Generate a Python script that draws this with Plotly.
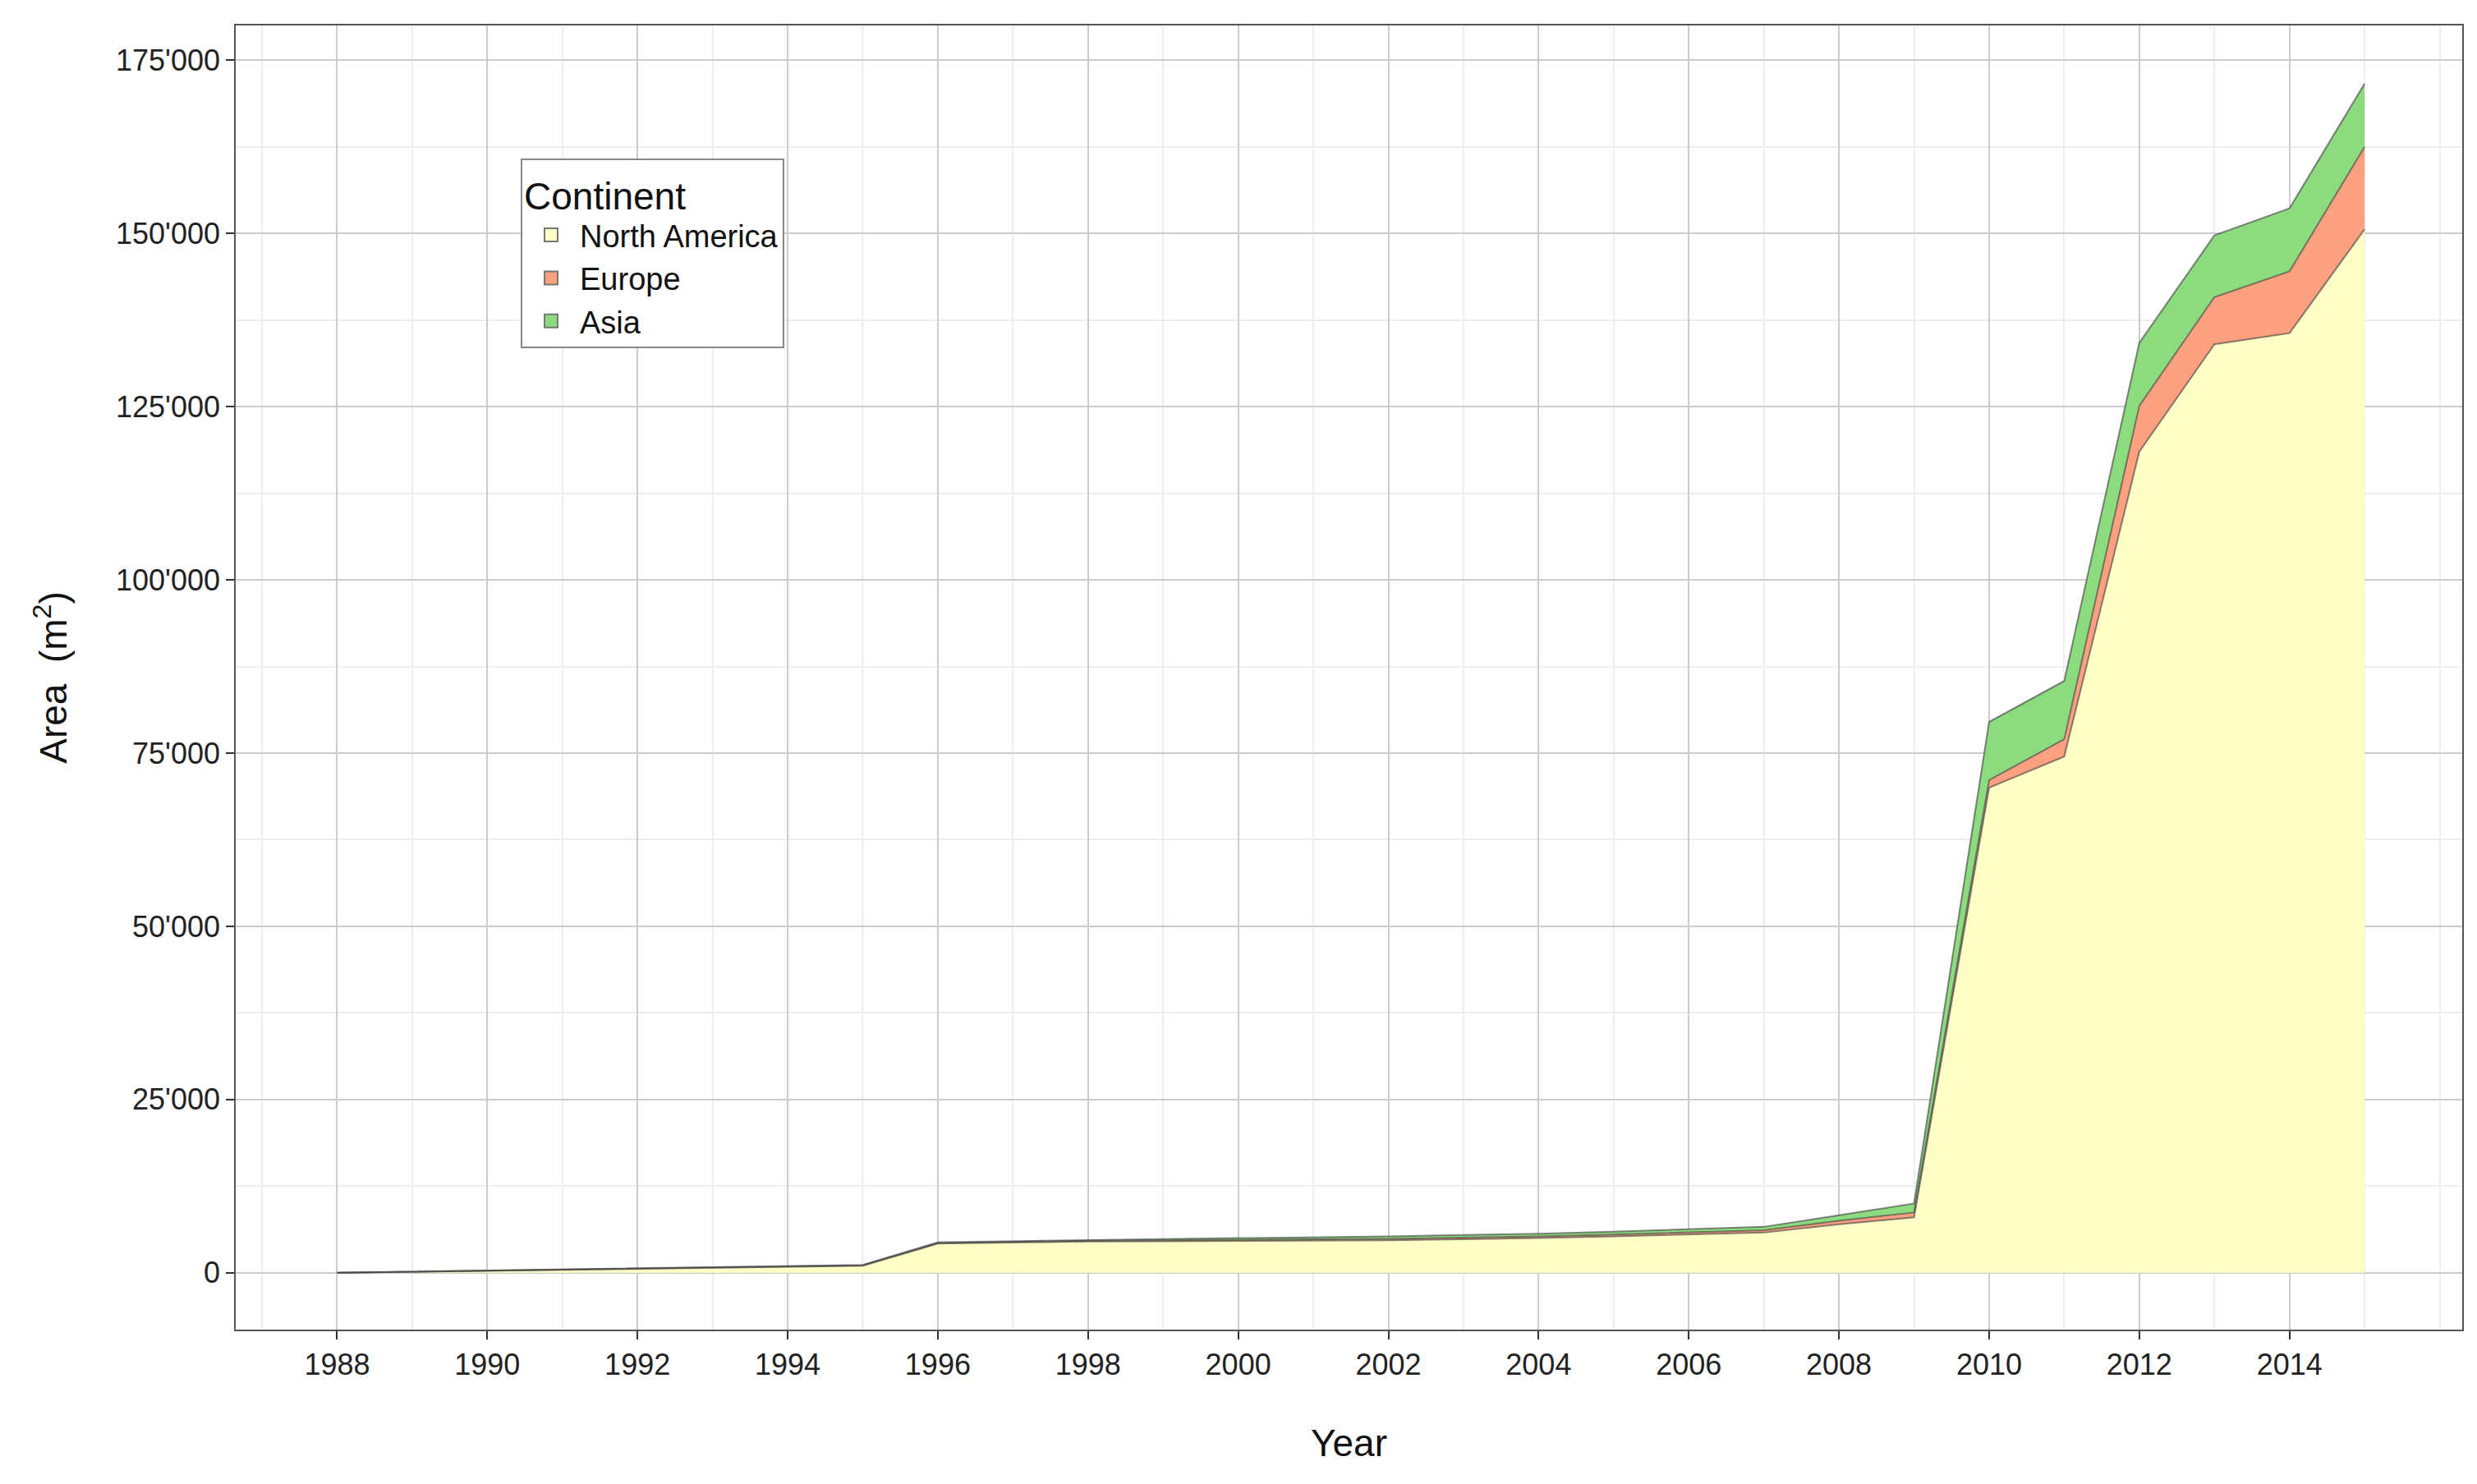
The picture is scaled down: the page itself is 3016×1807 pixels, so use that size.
import plotly.graph_objects as go

years = list(range(1988, 2016))
north_america = [0, 150, 300, 450, 600, 750, 850, 1000, 4200, 4350, 4500, 4550, 4600, 4650, 4700, 4850, 5000, 5250, 5500, 5800, 7000, 8000,
                 70000, 74500, 118500, 134000, 135600, 150600]
europe = [0, 10, 20, 30, 40, 50, 60, 70, 100, 110, 120, 130, 150, 170, 200, 220, 250, 270, 300, 330, 500, 700,
          1100, 2500, 6600, 6800, 8900, 11900]
asia = [0, 10, 20, 30, 40, 50, 60, 70, 100, 120, 150, 200, 250, 300, 350, 380, 400, 420, 450, 500, 800, 1300,
        8400, 8400, 9100, 8900, 9100, 9100]

yticks = [0, 25000, 50000, 75000, 100000, 125000, 150000, 175000]
yticktext = ["0", "25'000", "50'000", "75'000", "100'000", "125'000", "150'000", "175'000"]
xticks = list(range(1988, 2016, 2))

series = [("North America", north_america, "#FFFFC6"),
          ("Europe", europe, "#FCA080"),
          ("Asia", asia, "#8CDB7E")]

fig = go.Figure()
for name, vals, fill in series:
    fig.add_trace(go.Scatter(x=years, y=vals, name=name, stackgroup="one", mode="lines",
                             line=dict(color="rgba(70,70,70,0.65)", width=2),
                             fillcolor=fill, showlegend=False))
for name, vals, fill in series:
    fig.add_trace(go.Scatter(x=[None], y=[None], name=name, mode="markers",
                             marker=dict(symbol="square", size=68, color=fill,
                                         line=dict(color="#777777", width=2))))

axis_common = dict(showline=True, linecolor="#555555", linewidth=1.5, mirror=True,
                   gridcolor="#CCCCCC", gridwidth=2, ticks="outside", ticklen=10,
                   tickcolor="#333333", tickwidth=2, zeroline=False,
                   tickfont=dict(size=36, color="#222222"))
fig.update_xaxes(range=[1986.65, 2016.3], tickvals=xticks,
                 title=dict(text="Year", font=dict(size=46, color="#111111"), standoff=60),
                 minor=dict(dtick=1, tick0=1989, showgrid=True, gridcolor="#EEEEEE", gridwidth=1.5, ticks=""),
                 **axis_common)
fig.update_yaxes(range=[-8200, 180000], tickvals=yticks, ticktext=yticktext,
                 title=dict(text="Area  (m<sup>2</sup>)", font=dict(size=46, color="#111111"), standoff=45),
                 minor=dict(dtick=12500, tick0=12500, showgrid=True, gridcolor="#EEEEEE", gridwidth=1.5, ticks=""),
                 **axis_common)

fig.update_layout(
    width=3016, height=1807,
    margin=dict(l=279, r=26, t=23, b=196),
    plot_bgcolor="white", paper_bgcolor="white",
    font=dict(family="Liberation Sans, Arial, sans-serif"),
    legend=dict(x=0.128, y=0.898, xanchor="left", yanchor="top", traceorder="normal",
                bordercolor="#888888", borderwidth=2, bgcolor="white",
                title=dict(text="Continent", font=dict(size=46, color="#111111")),
                font=dict(size=38, color="#111111"), itemsizing="trace", itemwidth=60,
                tracegroupgap=10),
)
fig.write_html("out.html")
